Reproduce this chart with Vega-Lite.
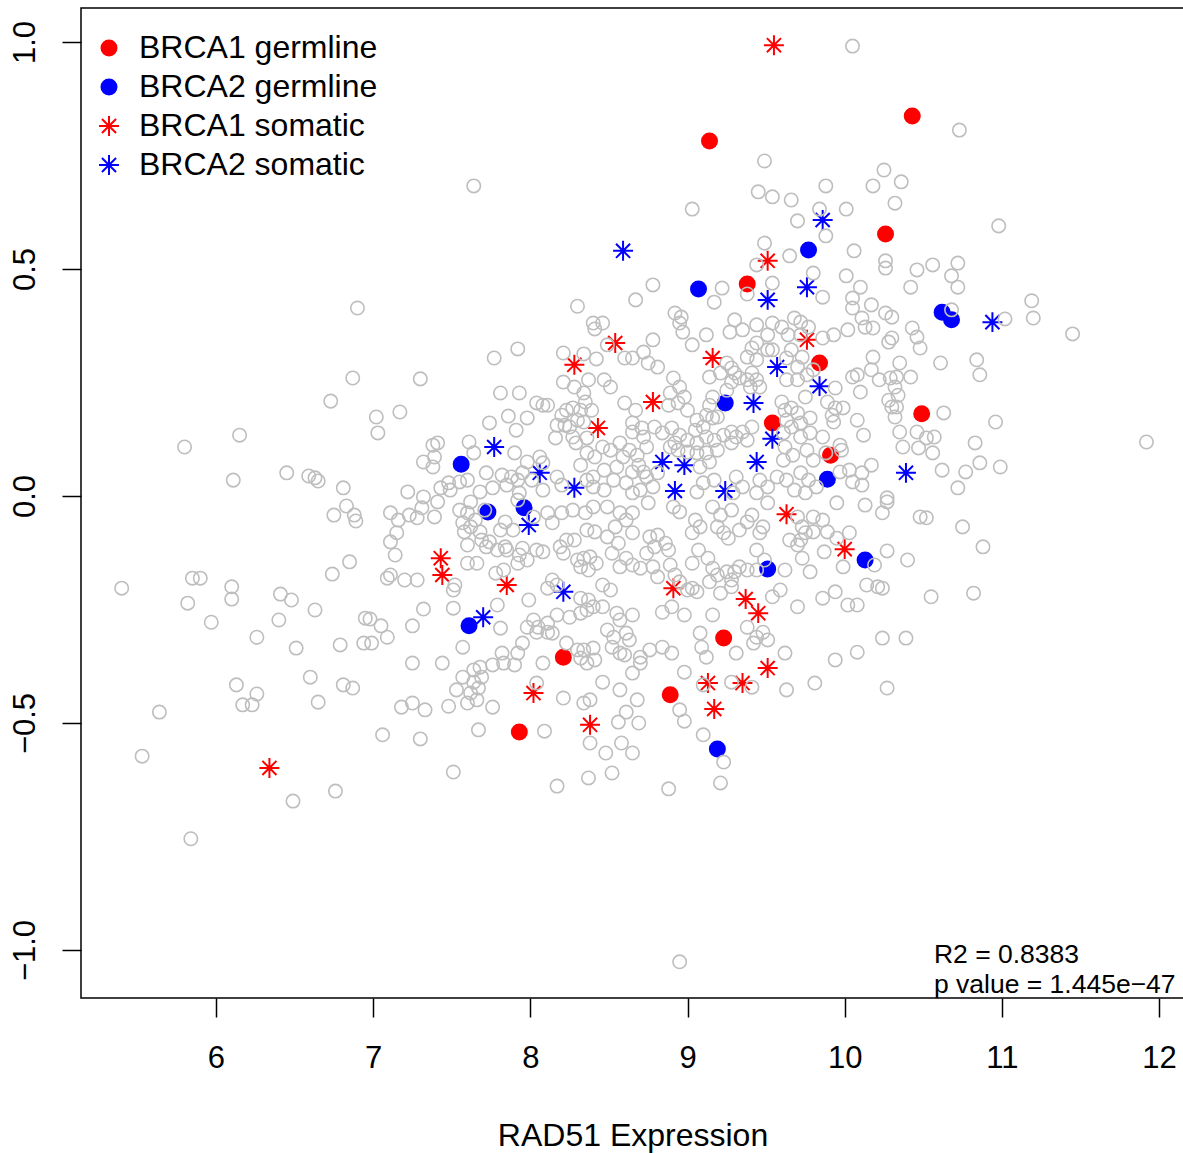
{
"$schema": "https://vega.github.io/schema/vega-lite/v6.json",
"width": 1103, "height": 990,
"autosize": {"type": "none"},
"padding": {"left": 81, "top": 8, "right": 0, "bottom": 155},
"background": "white",
"config": {
 "font": "Liberation Sans",
 "view": {"stroke": "#000000", "strokeWidth": 1.5},
 "axis": {"grid": false, "domain": false, "tickColor": "#000000", "tickWidth": 1.5, "tickSize": 19, "labelColor": "#000000", "labelFont": "Liberation Sans", "labelFontSize": 31, "labelOverlap": false, "titleFont": "Liberation Sans", "titleFontSize": 32, "titleFontWeight": "normal", "titleColor": "#000000"}
},
"layer": [
{
 "data": {"values": [
  {"g":"BRCA1 germline","x":9.14,"y":0.782},{"g":"BRCA1 germline","x":10.43,"y":0.837},{"g":"BRCA1 germline","x":10.26,"y":0.577},{"g":"BRCA1 germline","x":9.38,"y":0.467},{"g":"BRCA1 germline","x":9.84,"y":0.293},{"g":"BRCA1 germline","x":10.49,"y":0.181},{"g":"BRCA1 germline","x":9.54,"y":0.161},{"g":"BRCA1 germline","x":9.91,"y":0.090},{"g":"BRCA1 germline","x":9.23,"y":-0.313},{"g":"BRCA1 germline","x":8.21,"y":-0.355},{"g":"BRCA1 germline","x":8.89,"y":-0.438},{"g":"BRCA1 germline","x":7.93,"y":-0.520},
  {"g":"BRCA2 germline","x":9.77,"y":0.542},{"g":"BRCA2 germline","x":9.07,"y":0.456},{"g":"BRCA2 germline","x":10.62,"y":0.405},{"g":"BRCA2 germline","x":10.68,"y":0.388},{"g":"BRCA2 germline","x":9.24,"y":0.205},{"g":"BRCA2 germline","x":7.56,"y":0.070},{"g":"BRCA2 germline","x":7.73,"y":-0.035},{"g":"BRCA2 germline","x":7.96,"y":-0.026},{"g":"BRCA2 germline","x":9.89,"y":0.037},{"g":"BRCA2 germline","x":10.13,"y":-0.141},{"g":"BRCA2 germline","x":9.51,"y":-0.161},{"g":"BRCA2 germline","x":7.61,"y":-0.286},{"g":"BRCA2 germline","x":9.19,"y":-0.557},
  {"g":"BRCA1 somatic","x":9.55,"y":0.993},{"g":"BRCA1 somatic","x":9.51,"y":0.518},{"g":"BRCA1 somatic","x":8.54,"y":0.337},{"g":"BRCA1 somatic","x":9.16,"y":0.304},{"g":"BRCA1 somatic","x":9.76,"y":0.344},{"g":"BRCA1 somatic","x":8.28,"y":0.289},{"g":"BRCA1 somatic","x":8.78,"y":0.207},{"g":"BRCA1 somatic","x":8.43,"y":0.150},{"g":"BRCA1 somatic","x":9.63,"y":-0.040},{"g":"BRCA1 somatic","x":10.00,"y":-0.117},{"g":"BRCA1 somatic","x":7.43,"y":-0.137},{"g":"BRCA1 somatic","x":7.44,"y":-0.174},{"g":"BRCA1 somatic","x":7.85,"y":-0.196},{"g":"BRCA1 somatic","x":8.91,"y":-0.203},{"g":"BRCA1 somatic","x":9.37,"y":-0.227},{"g":"BRCA1 somatic","x":9.45,"y":-0.258},{"g":"BRCA1 somatic","x":9.51,"y":-0.379},{"g":"BRCA1 somatic","x":9.35,"y":-0.412},{"g":"BRCA1 somatic","x":9.13,"y":-0.412},{"g":"BRCA1 somatic","x":9.17,"y":-0.469},{"g":"BRCA1 somatic","x":8.02,"y":-0.434},{"g":"BRCA1 somatic","x":8.38,"y":-0.504},{"g":"BRCA1 somatic","x":6.34,"y":-0.599},
  {"g":"BRCA2 somatic","x":9.86,"y":0.608},{"g":"BRCA2 somatic","x":8.59,"y":0.540},{"g":"BRCA2 somatic","x":9.51,"y":0.432},{"g":"BRCA2 somatic","x":9.76,"y":0.460},{"g":"BRCA2 somatic","x":9.57,"y":0.284},{"g":"BRCA2 somatic","x":9.84,"y":0.242},{"g":"BRCA2 somatic","x":9.42,"y":0.205},{"g":"BRCA2 somatic","x":7.77,"y":0.108},{"g":"BRCA2 somatic","x":9.54,"y":0.126},{"g":"BRCA2 somatic","x":8.06,"y":0.051},{"g":"BRCA2 somatic","x":8.28,"y":0.018},{"g":"BRCA2 somatic","x":8.84,"y":0.075},{"g":"BRCA2 somatic","x":8.98,"y":0.068},{"g":"BRCA2 somatic","x":9.44,"y":0.075},{"g":"BRCA2 somatic","x":8.92,"y":0.011},{"g":"BRCA2 somatic","x":9.24,"y":0.011},{"g":"BRCA2 somatic","x":10.39,"y":0.051},{"g":"BRCA2 somatic","x":10.94,"y":0.383},{"g":"BRCA2 somatic","x":7.99,"y":-0.064},{"g":"BRCA2 somatic","x":7.70,"y":-0.267},{"g":"BRCA2 somatic","x":8.21,"y":-0.211}
 ]},
 "mark": {"type": "point", "filled": true, "strokeWidth": 2, "size": 225, "opacity": 1},
 "encoding": {
  "x": {"field": "x", "type": "quantitative", "scale": {"domain": [5.1411, 12.159], "nice": false, "zero": false},
        "axis": {"values": [6,7,8,9,10,11,12], "format": "d", "title": "RAD51 Expression", "labelAngle": 0, "labelBaseline": "alphabetic", "labelPadding": 50, "titleY": 147, "titleBaseline": "alphabetic"}},
  "y": {"field": "y", "type": "quantitative", "scale": {"domain": [-1.1057, 1.0749], "nice": false, "zero": false},
        "axis": {"values": [-1,-0.5,0,0.5,1], "format": ".1f", "title": null, "labelAngle": 270, "labelAlign": "center", "labelBaseline": "alphabetic", "labelPadding": 28}},
  "fill": {"field": "g", "type": "nominal", "scale": {"domain": ["BRCA1 germline","BRCA2 germline","BRCA1 somatic","BRCA2 somatic"], "range": ["#FF0000","#0000FF","transparent","transparent"]},
           "legend": {"title": null, "orient": "none", "legendX": 12, "legendY": 24, "labelFontSize": 32, "labelFont": "Liberation Sans", "labelColor": "#000000", "symbolSize": 225, "symbolStrokeWidth": 2, "rowPadding": 7, "labelOffset": 14, "padding": 0, "labelLimit": 0}},
  "stroke": {"field": "g", "type": "nominal", "scale": {"domain": ["BRCA1 germline","BRCA2 germline","BRCA1 somatic","BRCA2 somatic"], "range": ["#FF0000","#0000FF","#FF0000","#0000FF"]},
           "legend": {"title": null, "orient": "none", "legendX": 12, "legendY": 24, "labelFontSize": 32, "labelFont": "Liberation Sans", "labelColor": "#000000", "symbolSize": 225, "symbolStrokeWidth": 2, "rowPadding": 7, "labelOffset": 14, "padding": 0, "labelLimit": 0}},
  "shape": {"field": "g", "type": "nominal", "scale": {"domain": ["BRCA1 germline","BRCA2 germline","BRCA1 somatic","BRCA2 somatic"], "range": ["circle","circle","M-1.33,0L1.33,0M0,-1.33L0,1.33M-0.94,-0.94L0.94,0.94M-0.94,0.94L0.94,-0.94","M-1.33,0L1.33,0M0,-1.33L0,1.33M-0.94,-0.94L0.94,0.94M-0.94,0.94L0.94,-0.94"]},
           "legend": {"title": null, "orient": "none", "legendX": 12, "legendY": 24, "labelFontSize": 32, "labelFont": "Liberation Sans", "labelColor": "#000000", "symbolSize": 225, "symbolStrokeWidth": 2, "rowPadding": 7, "labelOffset": 14, "padding": 0, "labelLimit": 0}}
 }
},
{
 "data": {"values": [
  {"x":6.90,"y":0.414},{"x":6.87,"y":0.260},{"x":6.73,"y":0.209},{"x":7.02,"y":0.174},{"x":7.03,"y":0.139},{"x":5.80,"y":0.108},{"x":6.15,"y":0.134},{"x":6.11,"y":0.035},{"x":6.45,"y":0.051},{"x":6.59,"y":0.044},{"x":6.63,"y":0.040},{"x":6.65,"y":0.033},{"x":6.81,"y":0.018},{"x":6.83,"y":-0.022},{"x":6.75,"y":-0.042},{"x":6.88,"y":-0.042},{"x":6.89,"y":-0.055},{"x":6.85,"y":-0.145},
  {"x":6.74,"y":-0.172},{"x":5.40,"y":-0.203},{"x":5.85,"y":-0.181},{"x":5.90,"y":-0.181},{"x":6.10,"y":-0.200},{"x":6.10,"y":-0.227},{"x":5.82,"y":-0.236},{"x":5.97,"y":-0.278},{"x":6.41,"y":-0.216},{"x":6.48,"y":-0.229},{"x":6.40,"y":-0.273},{"x":6.63,"y":-0.251},{"x":6.26,"y":-0.311},{"x":6.51,"y":-0.335},{"x":6.79,"y":-0.328},{"x":6.95,"y":-0.269},{"x":6.98,"y":-0.271},{"x":6.94,"y":-0.324},{"x":6.99,"y":-0.324},{"x":7.05,"y":-0.286},{"x":6.60,"y":-0.399},{"x":6.13,"y":-0.416},{"x":6.26,"y":-0.436},{"x":6.17,"y":-0.460},{"x":6.23,"y":-0.460},{"x":6.65,"y":-0.454},{"x":6.81,"y":-0.416},{"x":6.87,"y":-0.423},{"x":5.64,"y":-0.476},{"x":5.53,"y":-0.573},{"x":7.06,"y":-0.526},{"x":6.49,"y":-0.672},{"x":6.76,"y":-0.650},{"x":5.84,"y":-0.755},
  {"x":8.30,"y":0.418},{"x":8.40,"y":0.381},{"x":8.41,"y":0.368},{"x":7.92,"y":0.324},{"x":7.77,"y":0.304},{"x":8.21,"y":0.315},{"x":8.34,"y":0.313},{"x":8.42,"y":0.302},{"x":7.30,"y":0.258},{"x":8.21,"y":0.251},{"x":8.28,"y":0.240},{"x":8.37,"y":0.256},{"x":7.81,"y":0.227},{"x":7.93,"y":0.227},{"x":8.04,"y":0.205},{"x":8.08,"y":0.200},{"x":8.11,"y":0.200},{"x":8.34,"y":0.227},{"x":8.35,"y":0.207},{"x":7.17,"y":0.185},{"x":7.86,"y":0.176},{"x":7.98,"y":0.172},{"x":7.74,"y":0.161},{"x":7.91,"y":0.145},{"x":8.23,"y":0.189},{"x":8.27,"y":0.194},{"x":8.32,"y":0.189},{"x":8.39,"y":0.189},{"x":8.20,"y":0.178},{"x":8.17,"y":0.156},{"x":8.22,"y":0.156},{"x":8.25,"y":0.152},{"x":8.30,"y":0.167},{"x":8.34,"y":0.163},{"x":8.16,"y":0.128},{"x":8.27,"y":0.130},{"x":8.29,"y":0.117},{"x":8.36,"y":0.128},{"x":7.38,"y":0.112},{"x":7.41,"y":0.117},{"x":7.61,"y":0.119},{"x":7.39,"y":0.086},{"x":7.32,"y":0.075},{"x":7.38,"y":0.064},{"x":7.64,"y":0.095},{"x":7.90,"y":0.095},{"x":7.98,"y":0.075},{"x":8.06,"y":0.086},{"x":8.08,"y":0.073},{"x":7.72,"y":0.051},{"x":7.82,"y":0.046},{"x":7.88,"y":0.042},{"x":7.92,"y":0.035},{"x":7.95,"y":0.051},{"x":8.01,"y":0.035},{"x":7.22,"y":0.009},{"x":7.32,"y":-0.002},{"x":7.43,"y":0.018},{"x":7.48,"y":0.029},{"x":7.49,"y":0.013},{"x":7.55,"y":0.031},{"x":7.60,"y":0.035},{"x":7.68,"y":0.009},{"x":7.76,"y":0.018},{"x":7.85,"y":0.024},{"x":7.93,"y":0.007},{"x":8.08,"y":0.013},{"x":8.17,"y":0.042},{"x":8.20,"y":0.024},{"x":8.36,"y":0.035},{"x":8.40,"y":0.042},{"x":8.40,"y":0.020},{"x":8.36,"y":0.095},{"x":8.41,"y":0.086},{"x":8.32,"y":0.068},
  {"x":7.11,"y":-0.037},{"x":7.16,"y":-0.053},{"x":7.23,"y":-0.042},{"x":7.28,"y":-0.048},{"x":7.31,"y":-0.026},{"x":7.39,"y":-0.046},{"x":7.41,"y":-0.013},{"x":7.11,"y":-0.101},{"x":7.15,"y":-0.081},{"x":7.14,"y":-0.130},{"x":7.09,"y":-0.181},{"x":7.20,"y":-0.185},{"x":7.28,"y":-0.185},{"x":7.11,"y":-0.174},{"x":7.09,"y":-0.311},{"x":7.25,"y":-0.286},{"x":7.32,"y":-0.249},{"x":7.51,"y":-0.247},{"x":7.57,"y":-0.333},{"x":7.25,"y":-0.368},{"x":7.44,"y":-0.368},{"x":7.18,"y":-0.465},{"x":7.25,"y":-0.456},{"x":7.33,"y":-0.471},{"x":7.48,"y":-0.463},{"x":7.57,"y":-0.399},{"x":7.64,"y":-0.383},{"x":7.68,"y":-0.377},{"x":7.69,"y":-0.399},{"x":7.64,"y":-0.410},{"x":7.67,"y":-0.423},{"x":7.53,"y":-0.427},{"x":7.62,"y":-0.434},{"x":7.66,"y":-0.449},{"x":7.60,"y":-0.456},{"x":7.76,"y":-0.465},{"x":7.51,"y":-0.207},{"x":7.52,"y":-0.196},{"x":7.57,"y":-0.059},{"x":7.62,"y":-0.068},{"x":7.65,"y":-0.053},{"x":7.58,"y":-0.079},{"x":7.68,"y":-0.079},{"x":7.60,"y":-0.108},{"x":7.69,"y":-0.097},{"x":7.66,"y":-0.148},{"x":7.60,"y":-0.148},{"x":7.74,"y":-0.101},{"x":7.79,"y":-0.119},{"x":7.84,"y":-0.112},{"x":7.85,"y":-0.119},{"x":7.72,"y":-0.112},{"x":7.83,"y":-0.163},{"x":7.78,"y":-0.170},{"x":7.84,"y":-0.057},{"x":7.89,"y":-0.075},{"x":7.81,"y":-0.075},{"x":7.55,"y":-0.031},{"x":7.60,"y":-0.037},{"x":7.62,"y":-0.013},{"x":7.71,"y":-0.031},{"x":7.92,"y":-0.009},{"x":8.02,"y":-0.046},{"x":8.11,"y":-0.037},{"x":8.14,"y":-0.059},{"x":8.20,"y":-0.037},{"x":8.27,"y":-0.031},{"x":8.35,"y":-0.037},{"x":8.40,"y":-0.024},{"x":8.36,"y":-0.075},{"x":8.41,"y":-0.079},{"x":7.95,"y":-0.115},{"x":8.04,"y":-0.119},{"x":8.08,"y":-0.123},{"x":7.93,"y":-0.130},{"x":7.98,"y":-0.141},{"x":7.92,"y":-0.148},{"x":8.19,"y":-0.112},{"x":8.23,"y":-0.097},{"x":8.28,"y":-0.097},{"x":8.21,"y":-0.126},{"x":8.30,"y":-0.141},{"x":8.34,"y":-0.137},{"x":8.32,"y":-0.156},{"x":8.37,"y":-0.163},{"x":8.42,"y":-0.148},{"x":8.38,"y":-0.134},{"x":8.11,"y":-0.203},{"x":8.14,"y":-0.185},{"x":8.17,"y":-0.196},{"x":7.99,"y":-0.229},{"x":7.79,"y":-0.240},{"x":7.81,"y":-0.291},{"x":7.98,"y":-0.289},{"x":8.32,"y":-0.225},{"x":8.37,"y":-0.229},{"x":8.36,"y":-0.251},{"x":8.32,"y":-0.258},{"x":8.40,"y":-0.244},{"x":8.25,"y":-0.267},{"x":8.17,"y":-0.262},{"x":8.02,"y":-0.273},{"x":8.05,"y":-0.289},{"x":8.11,"y":-0.280},{"x":8.11,"y":-0.300},{"x":8.04,"y":-0.300},{"x":8.14,"y":-0.302},{"x":8.23,"y":-0.324},{"x":8.30,"y":-0.339},{"x":8.34,"y":-0.339},{"x":8.40,"y":-0.335},{"x":8.32,"y":-0.357},{"x":8.36,"y":-0.368},{"x":8.41,"y":-0.361},{"x":7.95,"y":-0.324},{"x":7.92,"y":-0.346},{"x":7.82,"y":-0.346},{"x":7.83,"y":-0.368},{"x":7.90,"y":-0.372},{"x":7.76,"y":-0.372},{"x":8.04,"y":-0.412},{"x":8.08,"y":-0.368},{"x":8.21,"y":-0.445},{"x":8.34,"y":-0.456},{"x":8.38,"y":-0.449},
  {"x":8.78,"y":0.465},{"x":8.67,"y":0.432},{"x":9.17,"y":0.427},{"x":9.22,"y":0.458},{"x":9.38,"y":0.445},{"x":9.54,"y":0.469},{"x":8.92,"y":0.403},{"x":8.96,"y":0.394},{"x":8.95,"y":0.381},{"x":8.97,"y":0.361},{"x":9.03,"y":0.333},{"x":9.12,"y":0.355},{"x":8.78,"y":0.344},{"x":8.72,"y":0.317},{"x":8.65,"y":0.304},{"x":8.60,"y":0.304},{"x":8.75,"y":0.293},{"x":8.81,"y":0.284},{"x":8.46,"y":0.381},{"x":8.49,"y":0.333},{"x":9.30,"y":0.388},{"x":9.27,"y":0.361},{"x":9.35,"y":0.366},{"x":9.44,"y":0.377},{"x":9.54,"y":0.381},{"x":9.60,"y":0.372},{"x":9.68,"y":0.392},{"x":9.72,"y":0.383},{"x":9.77,"y":0.372},{"x":9.72,"y":0.355},{"x":9.64,"y":0.355},{"x":9.51,"y":0.355},{"x":9.44,"y":0.337},{"x":9.41,"y":0.326},{"x":9.38,"y":0.306},{"x":9.44,"y":0.300},{"x":9.51,"y":0.322},{"x":9.54,"y":0.322},{"x":9.66,"y":0.322},{"x":9.63,"y":0.304},{"x":9.73,"y":0.306},{"x":9.70,"y":0.284},{"x":9.76,"y":0.267},{"x":9.70,"y":0.256},{"x":9.63,"y":0.256},{"x":9.80,"y":0.278},{"x":9.25,"y":0.293},{"x":9.28,"y":0.282},{"x":9.30,"y":0.271},{"x":9.33,"y":0.260},{"x":9.38,"y":0.256},{"x":9.41,"y":0.271},{"x":9.44,"y":0.256},{"x":9.40,"y":0.240},{"x":9.46,"y":0.240},{"x":9.28,"y":0.251},{"x":9.21,"y":0.271},{"x":9.14,"y":0.262},{"x":9.25,"y":0.233},{"x":8.47,"y":0.256},{"x":8.51,"y":0.240},{"x":8.60,"y":0.205},{"x":8.67,"y":0.189},{"x":8.91,"y":0.260},{"x":8.95,"y":0.240},{"x":8.89,"y":0.227},{"x":8.98,"y":0.218},{"x":8.94,"y":0.205},{"x":8.88,"y":0.200},{"x":9.00,"y":0.189},{"x":9.16,"y":0.218},{"x":9.14,"y":0.200},{"x":9.12,"y":0.178},{"x":9.06,"y":0.167},{"x":9.16,"y":0.172},{"x":9.19,"y":0.174},{"x":9.60,"y":0.207},{"x":9.62,"y":0.189},{"x":9.66,"y":0.194},{"x":9.70,"y":0.183},{"x":9.75,"y":0.218},{"x":9.63,"y":0.167},{"x":9.72,"y":0.161},{"x":9.78,"y":0.172},{"x":8.65,"y":0.161},{"x":8.71,"y":0.150},{"x":8.65,"y":0.141},{"x":8.72,"y":0.130},{"x":8.79,"y":0.152},{"x":8.84,"y":0.139},{"x":8.90,"y":0.150},{"x":8.95,"y":0.134},{"x":8.92,"y":0.117},{"x":9.00,"y":0.123},{"x":9.05,"y":0.145},{"x":9.10,"y":0.152},{"x":9.06,"y":0.117},{"x":9.12,"y":0.130},{"x":9.17,"y":0.123},{"x":9.23,"y":0.134},{"x":9.28,"y":0.141},{"x":9.31,"y":0.130},{"x":9.35,"y":0.141},{"x":9.41,"y":0.152},{"x":9.38,"y":0.123},{"x":9.28,"y":0.117},{"x":9.19,"y":0.101},{"x":9.12,"y":0.095},{"x":9.06,"y":0.095},{"x":8.46,"y":0.108},{"x":8.51,"y":0.101},{"x":8.57,"y":0.117},{"x":8.63,"y":0.101},{"x":8.59,"y":0.086},{"x":8.68,"y":0.090},{"x":8.74,"y":0.108},{"x":8.69,"y":0.068},{"x":8.72,"y":0.053},{"x":8.65,"y":0.053},{"x":8.74,"y":0.042},{"x":8.81,"y":0.051},{"x":8.89,"y":0.108},{"x":8.94,"y":0.101},{"x":9.00,"y":0.097},{"x":8.47,"y":0.057},{"x":8.55,"y":0.064},{"x":8.53,"y":0.035},{"x":8.61,"y":0.029},{"x":8.47,"y":0.013},{"x":8.70,"y":0.013},{"x":8.78,"y":0.020},{"x":8.65,"y":0.007},{"x":9.08,"y":0.064},{"x":9.14,"y":0.075},{"x":9.17,"y":0.035},{"x":9.10,"y":0.029},{"x":9.06,"y":0.009},{"x":9.31,"y":0.042},{"x":9.35,"y":0.020},{"x":9.29,"y":0.007},{"x":9.61,"y":0.139},{"x":9.66,"y":0.152},{"x":9.62,"y":0.108},{"x":9.72,"y":0.130},{"x":9.78,"y":0.139},{"x":9.67,"y":0.090},{"x":9.76,"y":0.101},{"x":9.80,"y":0.079},{"x":9.61,"y":0.079},{"x":9.57,"y":0.042},{"x":9.63,"y":0.035},{"x":9.72,"y":0.051},{"x":9.77,"y":0.035},{"x":9.68,"y":0.013},{"x":9.75,"y":0.007},{"x":9.82,"y":0.020},{"x":9.46,"y":0.035},{"x":9.51,"y":0.020},{"x":9.44,"y":0.007},
  {"x":8.49,"y":-0.024},{"x":8.57,"y":-0.037},{"x":8.61,"y":-0.053},{"x":8.65,"y":-0.037},{"x":8.54,"y":-0.068},{"x":8.65,"y":-0.081},{"x":8.49,"y":-0.090},{"x":8.56,"y":-0.104},{"x":8.52,"y":-0.126},{"x":8.61,"y":-0.137},{"x":8.65,"y":-0.152},{"x":8.57,"y":-0.156},{"x":8.70,"y":-0.159},{"x":8.74,"y":-0.126},{"x":8.76,"y":-0.090},{"x":8.81,"y":-0.086},{"x":8.86,"y":-0.104},{"x":8.88,"y":-0.119},{"x":8.79,"y":-0.112},{"x":8.78,"y":-0.156},{"x":8.89,"y":-0.152},{"x":8.92,"y":-0.174},{"x":8.81,"y":-0.178},{"x":8.75,"y":-0.015},{"x":8.91,"y":-0.024},{"x":8.95,"y":-0.035},{"x":9.05,"y":-0.053},{"x":9.08,"y":-0.068},{"x":9.03,"y":-0.081},{"x":9.16,"y":-0.024},{"x":9.21,"y":-0.042},{"x":9.28,"y":-0.031},{"x":9.19,"y":-0.068},{"x":9.23,"y":-0.081},{"x":9.26,"y":-0.093},{"x":9.33,"y":-0.075},{"x":9.38,"y":-0.057},{"x":9.41,"y":-0.042},{"x":9.46,"y":-0.081},{"x":9.48,"y":-0.068},{"x":9.51,"y":-0.015},{"x":9.07,"y":-0.119},{"x":9.13,"y":-0.137},{"x":9.03,"y":-0.148},{"x":9.16,"y":-0.159},{"x":9.19,"y":-0.174},{"x":9.25,"y":-0.167},{"x":9.28,"y":-0.185},{"x":9.30,"y":-0.167},{"x":9.33,"y":-0.156},{"x":9.38,"y":-0.163},{"x":9.44,"y":-0.163},{"x":9.14,"y":-0.189},{"x":9.21,"y":-0.214},{"x":9.28,"y":-0.200},{"x":9.03,"y":-0.203},{"x":8.95,"y":-0.189},{"x":9.00,"y":-0.207},{"x":9.06,"y":-0.211},{"x":8.46,"y":-0.196},{"x":8.51,"y":-0.207},{"x":8.46,"y":-0.244},{"x":8.55,"y":-0.258},{"x":8.65,"y":-0.262},{"x":8.84,"y":-0.256},{"x":8.90,"y":-0.244},{"x":8.98,"y":-0.262},{"x":9.16,"y":-0.262},{"x":9.44,"y":-0.119},{"x":9.49,"y":-0.141},{"x":9.62,"y":-0.163},{"x":9.59,"y":-0.207},{"x":9.54,"y":-0.222},{"x":9.70,"y":-0.244},{"x":9.65,"y":-0.097},{"x":9.70,"y":-0.108},{"x":9.72,"y":-0.097},{"x":9.75,"y":-0.081},{"x":9.73,"y":-0.068},{"x":9.70,"y":-0.046},{"x":9.80,"y":-0.079},{"x":9.73,"y":-0.137},{"x":9.78,"y":-0.167},{"x":9.80,"y":-0.046},{"x":8.49,"y":-0.295},{"x":8.57,"y":-0.273},{"x":8.53,"y":-0.311},{"x":8.61,"y":-0.302},{"x":8.52,"y":-0.333},{"x":8.57,"y":-0.346},{"x":8.60,"y":-0.350},{"x":8.63,"y":-0.317},{"x":8.70,"y":-0.355},{"x":8.70,"y":-0.368},{"x":8.76,"y":-0.339},{"x":8.84,"y":-0.333},{"x":8.90,"y":-0.346},{"x":8.46,"y":-0.410},{"x":8.65,"y":-0.390},{"x":8.57,"y":-0.427},{"x":8.68,"y":-0.449},{"x":8.61,"y":-0.476},{"x":9.08,"y":-0.302},{"x":9.09,"y":-0.333},{"x":9.12,"y":-0.355},{"x":9.31,"y":-0.346},{"x":9.38,"y":-0.289},{"x":9.44,"y":-0.311},{"x":9.48,"y":-0.300},{"x":9.42,"y":-0.324},{"x":9.51,"y":-0.317},{"x":8.98,"y":-0.388},{"x":9.10,"y":-0.416},{"x":9.28,"y":-0.410},{"x":9.41,"y":-0.421},{"x":9.62,"y":-0.346},{"x":9.63,"y":-0.427},{"x":9.81,"y":-0.412},{"x":8.95,"y":-0.471},
  {"x":10.42,"y":0.460},{"x":10.72,"y":0.460},{"x":10.68,"y":0.410},{"x":11.19,"y":0.430},{"x":11.20,"y":0.392},{"x":11.02,"y":0.390},{"x":9.86,"y":0.438},{"x":10.05,"y":0.436},{"x":10.10,"y":0.460},{"x":10.05,"y":0.414},{"x":10.17,"y":0.421},{"x":10.26,"y":0.403},{"x":10.30,"y":0.394},{"x":10.11,"y":0.392},{"x":10.02,"y":0.366},{"x":10.13,"y":0.372},{"x":10.18,"y":0.370},{"x":9.93,"y":0.355},{"x":9.86,"y":0.348},{"x":10.43,"y":0.370},{"x":10.46,"y":0.350},{"x":10.48,"y":0.326},{"x":10.30,"y":0.348},{"x":10.28,"y":0.339},{"x":10.18,"y":0.306},{"x":10.35,"y":0.293},{"x":10.17,"y":0.278},{"x":10.08,"y":0.267},{"x":10.05,"y":0.262},{"x":10.22,"y":0.256},{"x":10.29,"y":0.260},{"x":10.33,"y":0.262},{"x":10.42,"y":0.262},{"x":10.32,"y":0.240},{"x":10.34,"y":0.222},{"x":10.28,"y":0.211},{"x":10.30,"y":0.196},{"x":10.33,"y":0.196},{"x":10.10,"y":0.229},{"x":9.94,"y":0.238},{"x":9.89,"y":0.207},{"x":9.94,"y":0.194},{"x":9.99,"y":0.194},{"x":9.92,"y":0.178},{"x":9.93,"y":0.163},{"x":10.08,"y":0.167},{"x":10.12,"y":0.134},{"x":10.32,"y":0.174},{"x":10.35,"y":0.141},{"x":10.46,"y":0.141},{"x":10.37,"y":0.108},{"x":10.47,"y":0.106},{"x":10.52,"y":0.128},{"x":10.57,"y":0.130},{"x":10.56,"y":0.095},{"x":10.62,"y":0.057},{"x":10.77,"y":0.053},{"x":10.86,"y":0.073},{"x":10.99,"y":0.064},{"x":10.83,"y":0.117},{"x":10.63,"y":0.183},{"x":10.96,"y":0.163},{"x":10.61,"y":0.293},{"x":10.84,"y":0.300},{"x":10.86,"y":0.267},{"x":9.97,"y":0.112},{"x":9.98,"y":0.101},{"x":9.97,"y":0.053},{"x":10.03,"y":0.057},{"x":10.11,"y":0.051},{"x":10.17,"y":0.068},{"x":10.05,"y":0.031},{"x":10.11,"y":0.024},{"x":9.86,"y":0.130},{"x":9.88,"y":0.095},{"x":10.27,"y":-0.004},{"x":10.72,"y":0.018},
  {"x":9.95,"y":-0.015},{"x":10.13,"y":-0.020},{"x":10.27,"y":-0.013},{"x":10.24,"y":-0.037},{"x":10.48,"y":-0.046},{"x":10.52,"y":-0.048},{"x":10.75,"y":-0.068},{"x":10.88,"y":-0.112},{"x":9.86,"y":-0.053},{"x":9.89,"y":-0.079},{"x":10.03,"y":-0.081},{"x":9.95,"y":-0.093},{"x":9.87,"y":-0.123},{"x":9.99,"y":-0.156},{"x":10.19,"y":-0.152},{"x":10.27,"y":-0.121},{"x":10.40,"y":-0.141},{"x":10.14,"y":-0.196},{"x":10.21,"y":-0.200},{"x":10.24,"y":-0.203},{"x":9.94,"y":-0.211},{"x":9.86,"y":-0.225},{"x":10.02,"y":-0.240},{"x":10.08,"y":-0.240},{"x":10.55,"y":-0.222},{"x":10.82,"y":-0.214},{"x":10.24,"y":-0.313},{"x":10.39,"y":-0.313},{"x":10.08,"y":-0.344},{"x":9.94,"y":-0.361},{"x":10.27,"y":-0.423},
  {"x":10.05,"y":0.991},{"x":10.73,"y":0.806},{"x":9.49,"y":0.738},{"x":10.25,"y":0.718},{"x":7.64,"y":0.683},{"x":9.45,"y":0.670},{"x":9.54,"y":0.659},{"x":9.66,"y":0.652},{"x":9.88,"y":0.683},{"x":10.18,"y":0.683},{"x":10.36,"y":0.692},{"x":10.32,"y":0.645},{"x":10.01,"y":0.632},{"x":9.84,"y":0.632},{"x":9.03,"y":0.632},{"x":9.70,"y":0.606},{"x":10.98,"y":0.595},{"x":9.88,"y":0.573},{"x":9.49,"y":0.557},{"x":10.06,"y":0.540},{"x":9.65,"y":0.529},{"x":9.44,"y":0.509},{"x":9.80,"y":0.491},{"x":10.01,"y":0.485},{"x":10.26,"y":0.518},{"x":10.26,"y":0.502},{"x":10.46,"y":0.498},{"x":10.56,"y":0.509},{"x":10.72,"y":0.513},{"x":10.68,"y":0.485},
  {"x":7.30,"y":-0.535},{"x":7.67,"y":-0.515},{"x":8.09,"y":-0.518},{"x":8.56,"y":-0.498},{"x":8.69,"y":-0.500},{"x":8.98,"y":-0.496},{"x":9.10,"y":-0.526},{"x":8.38,"y":-0.544},{"x":8.58,"y":-0.544},{"x":8.48,"y":-0.566},{"x":8.65,"y":-0.566},{"x":9.23,"y":-0.586},{"x":7.51,"y":-0.608},{"x":8.52,"y":-0.610},{"x":8.37,"y":-0.621},{"x":8.17,"y":-0.639},{"x":8.88,"y":-0.645},{"x":9.21,"y":-0.632},{"x":8.95,"y":-1.026},
  {"x":11.45,"y":0.357},{"x":11.92,"y":0.119}
 ]},
 "mark": {"type": "point", "shape": "circle", "filled": false, "stroke": "#BEBEBE", "strokeWidth": 1.6, "size": 180, "opacity": 1},
 "encoding": {
  "x": {"field": "x", "type": "quantitative"},
  "y": {"field": "y", "type": "quantitative"}
 }
},
{
 "data": {"values": [
  {"x": 10.568, "y": -1.011, "t": "R2 = 0.8383"},
  {"x": 10.568, "y": -1.077, "t": "p value = 1.445e\u221247"}
 ]},
 "mark": {"type": "text", "align": "left", "baseline": "middle", "fontSize": 26.5, "font": "Liberation Sans", "color": "#000000"},
 "encoding": {
  "x": {"field": "x", "type": "quantitative"},
  "y": {"field": "y", "type": "quantitative"},
  "text": {"field": "t", "type": "nominal"}
 }
}
]
}
